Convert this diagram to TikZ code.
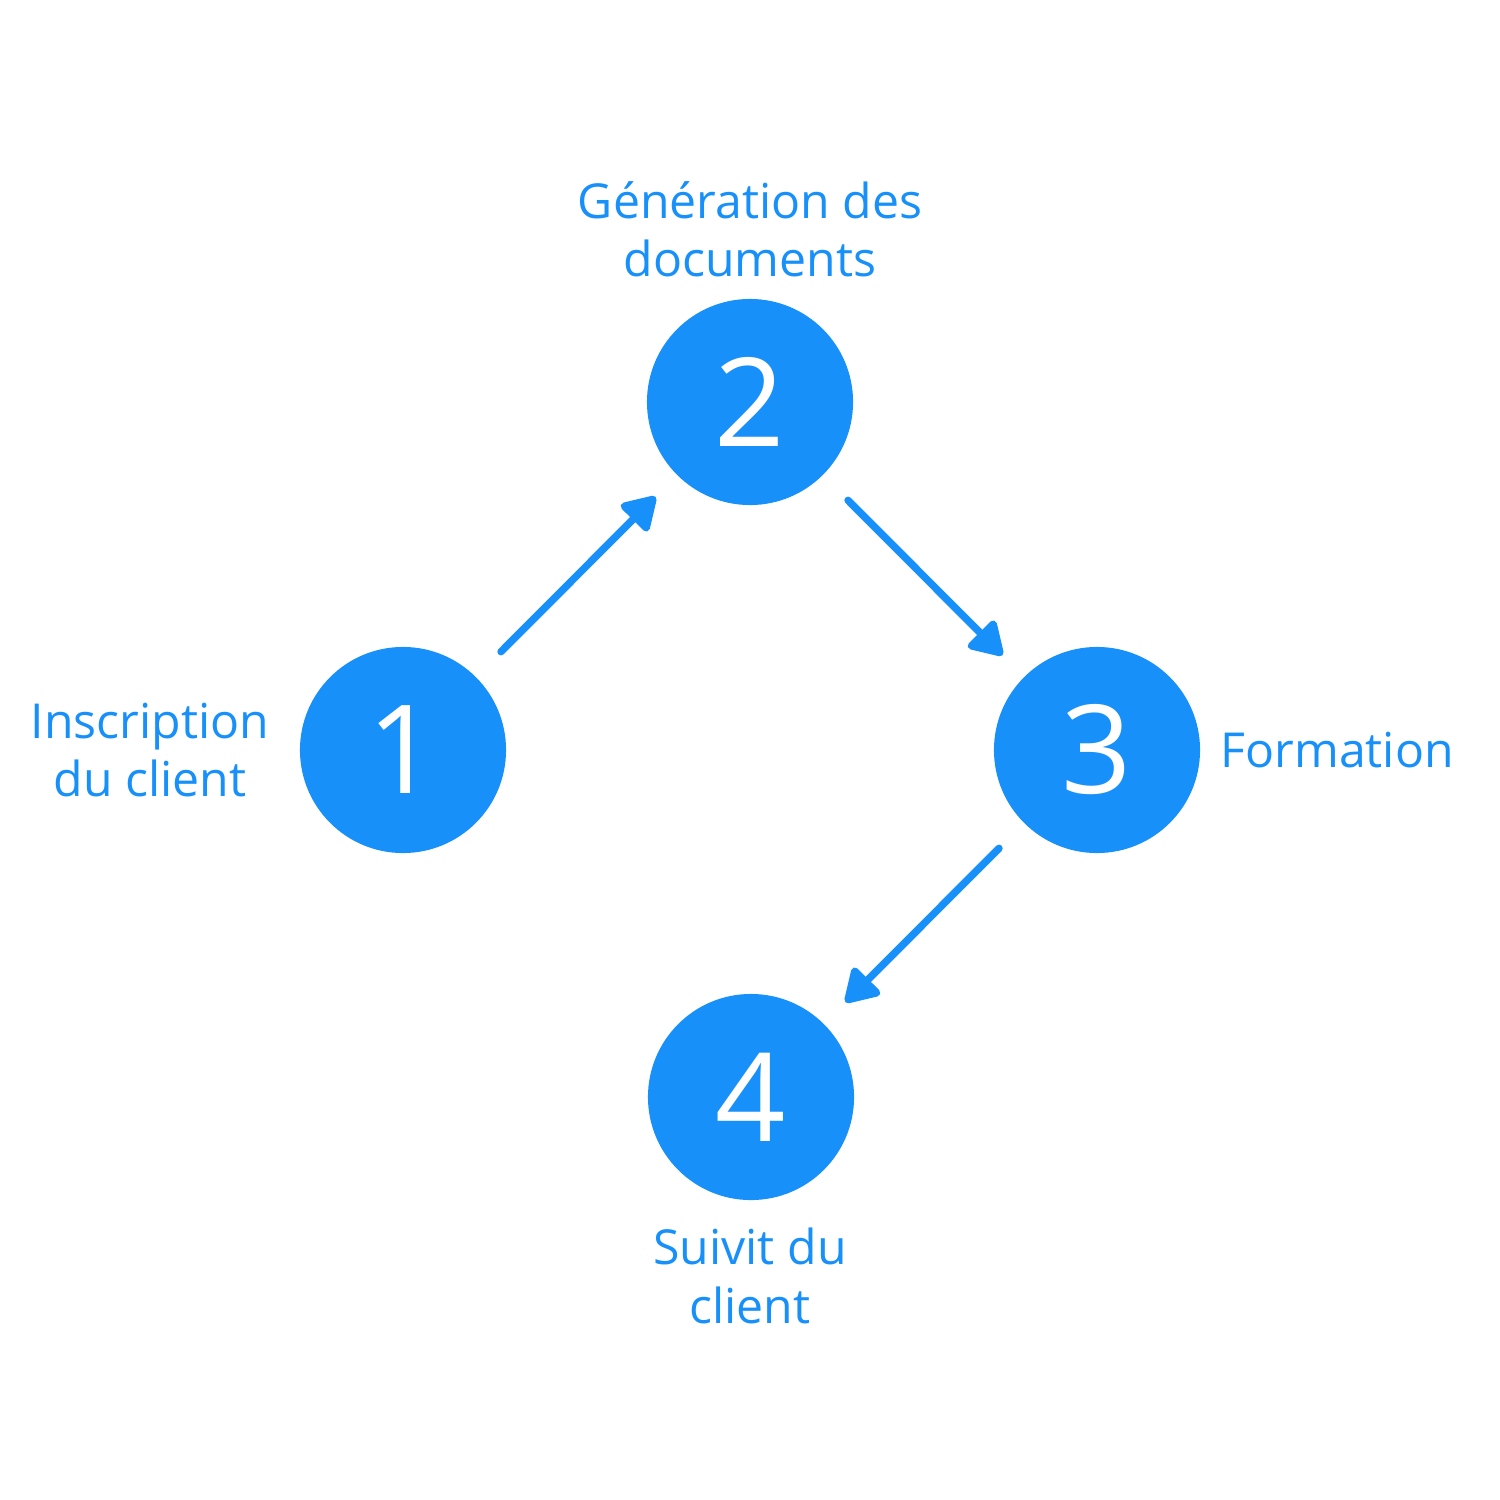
\documentclass[tikz,border=0pt]{standalone}
\usepackage{fontspec}
\setmainfont{Open Sans}
\usetikzlibrary{arrows.meta}
\definecolor{stepblue}{RGB}{24,144,250}

\begin{document}
\begin{tikzpicture}[x=0.01cm, y=-0.01cm,
    stepcircle/.style={circle, fill=stepblue, minimum size=2.06cm, inner sep=0pt,
        text=white, font=\fontsize{35}{35}\selectfont},
    steplabel/.style={text=stepblue, align=center, inner sep=0pt,
        font=\fontsize{13.7}{16.6}\selectfont},
    steparrow/.style={draw=stepblue, line width=2.1pt, line cap=round,
        -{Triangle[length=0.36cm, width=0.42cm, round]},
        shorten <=0.35cm, shorten >=0.3cm}]
    \useasboundingbox (0,0) rectangle (1500,1500);
    \node[stepcircle] (s1) at (403,750) {1};
    \node[stepcircle] (s2) at (750,402) {2};
    \node[stepcircle] (s3) at (1097,750) {3};
    \node[stepcircle] (s4) at (751,1097) {4};
    \node[steplabel] (l1) at (150,750) {Inscription\\du client};
    \node[steplabel] (l2) at (750,229) {Génération des\\documents};
    \node[steplabel, anchor=west] (l3) at (1220,750) {Formation};
    \node[steplabel] (l4) at (750,1276) {Suivit du\\client};
    \draw[steparrow] (s1) -- (s2);
    \draw[steparrow] (s2) -- (s3);
    \draw[steparrow] (s3) -- (s4);
\end{tikzpicture}
\end{document}
